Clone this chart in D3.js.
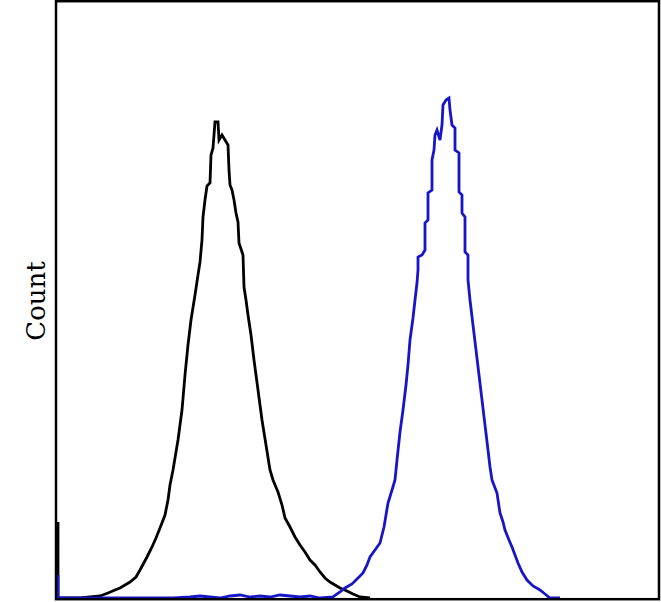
<!DOCTYPE html>
<html><head><meta charset="utf-8">
<script src="https://cdn.jsdelivr.net/npm/d3@7/dist/d3.min.js"></script>
<style>body{margin:0;background:#fff;}svg{display:block;}</style>
</head><body>
<svg id="c" width="661" height="602"></svg>
<script>
// channel (fluorescence bin) and event count for each histogram
const blackChannels = [1,1,23,33,43,51,58,63,68,73,79,83,90,95,99,103,108,111,113,116,121,125,128,131,134,138,141,143,145,146,148,150,153,154,156,158,161,162,165,168,171,172,173,175,177,179,181,182,186,187,189,191,194,197,201,205,209,213,216,221,225,228,233,238,243,248,253,258,263,268,273,278,283,290,296,303,313];
const blackCounts   = [76,0,0,1,2,5,8,10,13,16,21,28,41,51,60,70,83,98,113,128,158,188,223,253,278,303,323,336,358,381,398,412,415,443,450,476,476,458,463,458,453,428,413,408,398,385,376,355,343,311,298,283,263,238,208,178,153,128,118,106,93,80,71,61,53,46,38,33,26,20,16,13,10,7,4,1,0];
const blueChannels = [1,1,116,133,143,153,163,173,183,193,203,213,223,233,243,253,263,276,283,288,295,301,306,310,313,318,323,325,327,329,331,335,338,340,343,346,349,351,353,356,358,360,361,361,365,368,368,371,371,375,375,377,378,380,383,385,386,389,392,393,395,398,398,402,402,405,405,408,408,411,411,413,416,419,422,425,428,431,433,435,440,443,446,448,452,455,458,461,465,470,476,483,488,493,503];
const blueCounts   = [23,0,0,1,2,1,0,2,3,1,2,1,3,2,1,2,0,1,6,10,14,20,25,33,41,48,55,63,71,83,95,108,118,138,166,188,213,233,258,280,298,315,328,341,343,348,375,378,405,408,438,448,463,468,458,473,493,498,500,488,473,470,448,445,406,403,385,381,346,343,318,298,273,248,223,198,173,148,131,118,105,85,76,68,58,51,43,35,26,18,12,8,4,0,0];
const yLabel = "Count";

const svg = d3.select("#c");
const x = d3.scaleLinear().domain([0, 601]).range([57, 658]);
const y = d3.scaleLinear().domain([0, 596]).range([598, 2]);

const line = d3.line().x(d => x(d[0])).y(d => y(d[1]));
const series = [
  {ch: blackChannels, ct: blackCounts, color: "#000000"},
  {ch: blueChannels, ct: blueCounts, color: "#1616c8"}
];
series.forEach(s => {
  const pts = s.ch.map((c, i) => [c, s.ct[i]]);
  svg.append("path").datum(pts).attr("d", line)
    .attr("fill", "none").attr("stroke", s.color)
    .attr("stroke-width", 2.8).attr("stroke-linejoin", "miter");
});

svg.append("rect").attr("x", 56).attr("y", 1.2).attr("width", 603).attr("height", 598)
  .attr("fill", "none").attr("stroke", "#000").attr("stroke-width", 2.5);

svg.append("text").attr("transform", "translate(45,301) rotate(-90)")
  .attr("text-anchor", "middle").attr("font-family", "DejaVu Serif")
  .attr("font-size", 26).attr("fill", "#000").text(yLabel);
</script>
</body></html>
